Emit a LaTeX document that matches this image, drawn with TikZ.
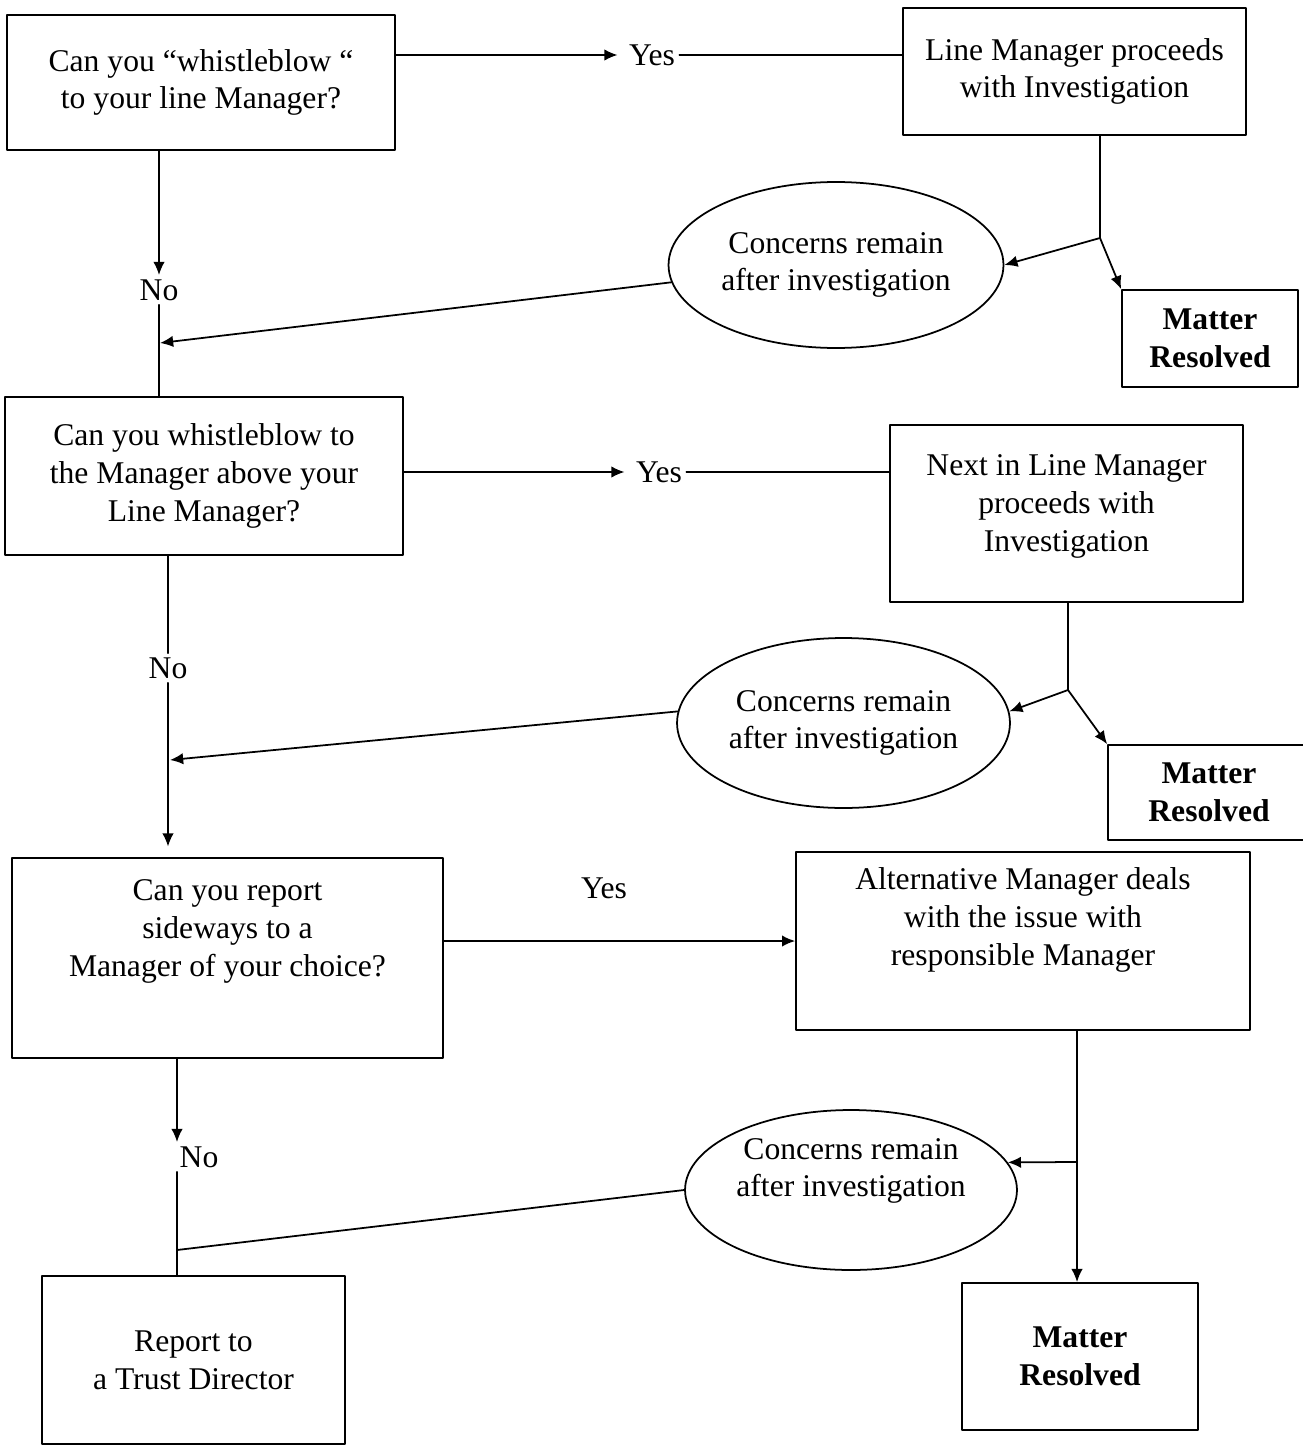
\documentclass[tikz,border=0pt]{standalone}
\usepackage{fontspec}
\setmainfont{Liberation Serif}
\usetikzlibrary{shapes.geometric,arrows.meta}
\tikzset{
  box/.style={draw,line width=1pt,align=center,inner sep=2pt,font=\fontsize{18}{21.5}\selectfont},
  oval/.style={ellipse,draw,line width=1pt,align=center,inner sep=0pt,font=\fontsize{18}{21.5}\selectfont},
  lbl/.style={inner sep=2pt,font=\fontsize{18}{21.5}\selectfont},
}
\begin{document}
\begin{tikzpicture}[x=0.02cm,y=-0.02cm,line width=1pt,line cap=round,line join=round,>={Latex[length=7.5pt,width=6.5pt]}]
  \useasboundingbox (0,0) rectangle (1302,1446);
  \node[box,minimum width=7.76cm,minimum height=2.7cm] (q1) at (201,82.5) {Can you “whistleblow “\\to your line Manager?};
  \node[box,minimum width=6.86cm,minimum height=2.54cm] (lm) at (1074.5,71.5) {Line Manager proceeds\\with Investigation};
  \node[oval,minimum width=6.7cm,minimum height=3.32cm] (ell1) at (836,265) {Concerns remain\\after investigation};
  \node[box,minimum width=3.52cm,minimum height=1.94cm,font=\fontsize{18}{21.5}\selectfont\bfseries] (mr1) at (1210,338.5) {Matter\\Resolved};
  \node[box,minimum width=7.96cm,minimum height=3.16cm] (q2) at (204,476) {Can you whistleblow to\\the Manager above your\\Line Manager?};
  \node[box,minimum width=7.06cm,minimum height=3.54cm,text depth=0.43cm] (nl) at (1066.5,513.5) {Next in Line Manager\\proceeds with\\Investigation};
  \node[oval,minimum width=6.66cm,minimum height=3.4cm] (ell2) at (843.5,723) {Concerns remain\\after investigation};
  \node[box,minimum width=4.04cm,minimum height=1.9cm,font=\fontsize{18}{21.5}\selectfont\bfseries] (mr2) at (1209,792.5) {Matter\\Resolved};
  \node[box,minimum width=8.62cm,minimum height=4cm,text depth=1.2cm] (q3) at (227.5,958) {Can you report\\sideways to a\\Manager of your choice?};
  \node[box,minimum width=9.08cm,minimum height=3.56cm,text depth=0.97cm] (alt) at (1023,941) {Alternative Manager deals\\with the issue with\\responsible Manager};
  \node[oval,minimum width=6.64cm,minimum height=3.2cm,text depth=0.9cm] (ell3) at (851,1190) {Concerns remain\\after investigation};
  \node[box,minimum width=4.72cm,minimum height=2.94cm,font=\fontsize{18}{21.5}\selectfont\bfseries] (mr3) at (1080,1356.5) {Matter\\Resolved};
  \node[box,minimum width=6.06cm,minimum height=3.36cm] (rt) at (193.5,1360) {Report to\\a Trust Director};
  \node[lbl] (yes1) at (652,55) {Yes};
  \node[lbl] (yes2) at (659,472) {Yes};
  \node[lbl] (yes3) at (604,888) {Yes};
  \node[lbl] (no1) at (159,290) {No};
  \node[lbl] (no2) at (168,668) {No};
  \node[lbl] (no3) at (199,1157) {No};
  \coordinate (j1) at (1100,238);
  \coordinate (j2) at (1068,690);
  \coordinate (j3) at (1077,1162);
  \coordinate (a1) at (160,343);
  \coordinate (a2) at (170,760);
  \coordinate (a3) at (177,1250);
  \draw[->,shorten >=4pt] (yes1 -| q1.east) -- (yes1.west);
  \draw (yes1.east) -- (yes1.east -| lm.west);
  \draw (lm.south -| j1) -- (j1);
  \draw[->] (j1) -- (ell1.east);
  \draw[->] (j1) -- (mr1.north west);
  \draw[->] (ell1.186) -- (a1);
  \draw[->] (q1.south -| no1) -- (no1.north);
  \draw (no1.south) -- (no1 |- q2.north);
  \draw[->,shorten >=4pt] (yes2 -| q2.east) -- (yes2.west);
  \draw (yes2.east) -- (yes2.east -| nl.west);
  \draw (nl.south -| j2) -- (j2);
  \draw[->] (j2) -- (ell2.4);
  \draw[->] (j2) -- (mr2.north west);
  \draw[->] (ell2.176) -- (a2);
  \draw (q2.south -| no2) -- (no2.north);
  \draw[->,shorten >=6pt] (no2.south) -- (no2 |- q3.north);
  \draw[->] (q3.east |- alt.west) -- (alt.west);
  \draw (alt.south -| j3) -- (j3);
  \draw[->] (j3) -- (j3 |- mr3.north);
  \draw[->] (j3) -- (ell3.10);
  \draw (ell3.west) -- (a3);
  \draw[->] (q3.south -| a3) -- (a3 |- no3.north);
  \draw (a3 |- no3.south) -- (a3 |- rt.north);
\end{tikzpicture}
\end{document}
